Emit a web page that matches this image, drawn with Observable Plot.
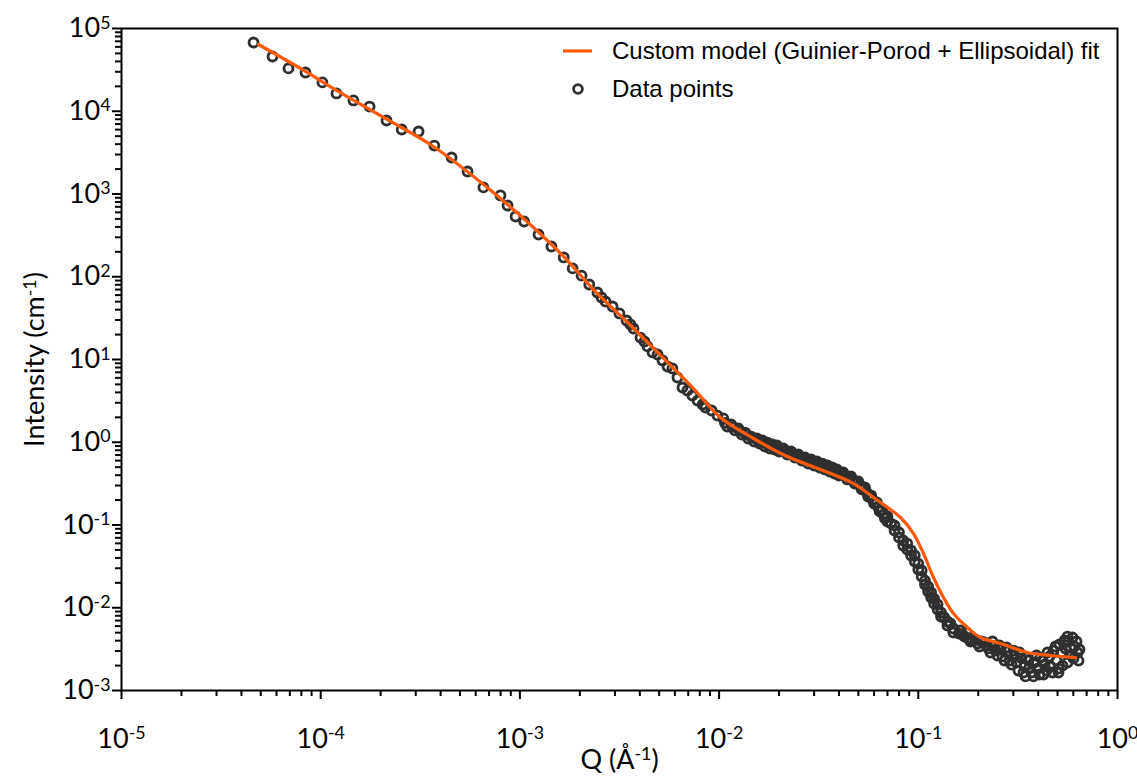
<!DOCTYPE html>
<html>
<head>
<meta charset="utf-8">
<script src="https://cdn.jsdelivr.net/npm/d3@7"></script>
<script src="https://cdn.jsdelivr.net/npm/@observablehq/plot@0.6"></script>
<style>
  html, body { margin: 0; padding: 0; background: #fff; }
  #wrap { position: relative; width: 1137px; height: 779px; overflow: hidden; }
  .leg { position: absolute; font-family: "Liberation Sans", Arial, sans-serif; font-size: 24px; line-height: 24px; color: #000; white-space: nowrap; }
</style>
</head>
<body>
<div id="wrap">
  <div id="chart"></div>
  <svg id="legsym" width="1137" height="779" style="position:absolute;left:0;top:0;pointer-events:none">
    <line x1="563" y1="51" x2="592" y2="51" stroke="#ff5a0a" stroke-width="3.2"></line>
    <circle cx="578" cy="89" r="4.4" fill="none" stroke="#2f2f2f" stroke-width="2.8"></circle>
  </svg>
  <div class="leg" id="leg1" style="left:612px;top:39px"></div>
  <div class="leg" id="leg2" style="left:612px;top:77px"></div>
</div>
<script>
// ---- Data ----
const legendLabels = ["Custom model (Guinier-Porod + Ellipsoidal) fit", "Data points"];

// fitted model curve
const qFit = [4.87e-5, 7.92e-5, 1.16e-4, 2.07e-4, 3.68e-4, 6.57e-4, 1.17e-3, 1.655e-3, 2.34e-3, 3.47e-3,
  5.08e-3, 7.44e-3, 1.016e-2, 1.49e-2, 2.20e-2, 3.23e-2, 4.73e-2, 5.96e-2, 6.46e-2, 8.14e-2,
  9.46e-2, 0.1062, 0.1192, 0.1338, 0.1502, 0.1766, 0.2052, 0.2587, 0.3533, 0.4610, 0.6155];
const iFit = [64100, 32900, 18800, 8410, 3750, 1300, 394, 176, 70.1, 28.0,
  11.2, 4.46, 1.99, 1.11, 0.673, 0.469, 0.317, 0.215, 0.187, 0.1232,
  0.0789, 0.0452, 0.0232, 0.0133, 0.00852, 0.00577, 0.00437, 0.00370, 0.00288, 0.00265, 0.00250];

// measured data points
const qData = [
  // low q
  4.60e-5, 5.73e-5, 6.89e-5, 8.39e-5, 1.02e-4, 1.20e-4, 1.46e-4, 1.76e-4, 2.14e-4, 2.55e-4,
  3.10e-4, 3.72e-4, 4.54e-4, 5.46e-4, 6.56e-4, 7.99e-4, 8.67e-4, 9.51e-4, 1.05e-3, 1.24e-3, 1.44e-3,
  1.66e-3, 1.84e-3, 2.04e-3, 2.23e-3, 2.45e-3, 2.57e-3, 2.69e-3, 2.92e-3, 3.16e-3, 3.43e-3,
  3.59e-3, 3.72e-3, 4.03e-3, 4.22e-3, 4.37e-3, 4.63e-3, 4.91e-3, 5.20e-3, 5.51e-3, 5.83e-3,
  6.18e-3, 6.55e-3, 6.93e-3, 7.34e-3, 7.79e-3, 8.26e-3, 8.55e-3, 9.17e-3, 9.82e-3,
  // mid band
  0.0105, 0.0110, 0.0115, 0.0120, 0.0125, 0.0130, 0.0135, 0.0140, 0.0145, 0.0150,
  0.0155, 0.0160, 0.0165, 0.0170, 0.0175, 0.0180, 0.0185, 0.0190, 0.0195, 0.0200,
  0.021, 0.022, 0.023, 0.024, 0.025, 0.026, 0.027, 0.028, 0.029, 0.030,
  0.031, 0.032, 0.033, 0.034, 0.035, 0.036, 0.037, 0.038, 0.039, 0.040,
  0.042, 0.044, 0.046, 0.048, 0.050, 0.052, 0.054, 0.056, 0.058, 0.060,
  0.062, 0.064, 0.066, 0.068, 0.070, 0.073, 0.076, 0.080, 0.084, 0.088,
  0.092, 0.096, 0.100, 0.104, 0.108, 0.112, 0.116, 0.120, 0.125, 0.130,
  0.135, 0.140, 0.145, 0.150, 0.160,
  0.0107, 0.0117, 0.0127, 0.0137, 0.0147, 0.0157, 0.0167, 0.0177, 0.0187, 0.0197,
  0.0205, 0.0215, 0.0225, 0.0235, 0.0245, 0.0255, 0.0265, 0.0275, 0.0285, 0.0295,
  0.0305, 0.0315, 0.0325, 0.0345, 0.0365, 0.0385, 0.0410, 0.0430, 0.0450, 0.0470,
  0.0490, 0.0510, 0.0530, 0.0550, 0.0570, 0.0590, 0.0610, 0.0630, 0.0650, 0.0670, 0.0690,
  // steep drop, second row
  0.070, 0.076, 0.080, 0.084, 0.088, 0.092, 0.096, 0.100, 0.104, 0.108,
  0.112, 0.116, 0.120, 0.125, 0.130, 0.140, 0.150,
  // tail
  0.1628, 0.1705, 0.1786, 0.1872, 0.1983, 0.2077, 0.2200, 0.2303, 0.2385, 0.2498,
  0.2586, 0.2708, 0.2804, 0.2937, 0.3040, 0.3184, 0.3297, 0.3413, 0.3574, 0.3701,
  0.3831, 0.3966, 0.4107, 0.4301, 0.4452, 0.4610, 0.4772, 0.4940, 0.5114, 0.5296,
  0.5483, 0.5675, 0.5876, 0.6083, 0.6300, 0.6373,
  0.3452, 0.4252, 0.5056, 0.5945,
  0.1667, 0.1746, 0.1828, 0.1937, 0.2029, 0.2149, 0.2251, 0.2358, 0.2441, 0.2556,
  0.2647, 0.2772, 0.2870, 0.3006, 0.3112, 0.3221, 0.3374, 0.3493, 0.3616, 0.3787,
  0.3921, 0.4059, 0.4202, 0.4402, 0.4557, 0.4718, 0.4884, 0.5056, 0.5235, 0.5419,
  0.5610, 0.5808, 0.6013, 0.6225, 0.6444, 0.5610];
const iData = [
  67700, 45900, 32900, 29400, 22300, 16400, 13500, 11400, 7730, 6020,
  5690, 3850, 2760, 1870, 1200, 960, 726, 535, 465, 324, 232,
  171, 126, 103, 80.6, 64.5, 56.1, 50.2, 43.7, 36.0, 29.6,
  26.5, 23.7, 18.4, 16.5, 14.4, 12.2, 11.5, 9.72, 8.23, 7.78,
  6.06, 4.59, 4.22, 3.67, 3.19, 2.86, 2.63, 2.42, 2.10,
  1.94, 1.55, 1.64, 1.39, 1.47, 1.24, 1.31, 1.11, 1.17, 1.02,
  1.11, 0.966, 1.05, 0.888, 0.99, 0.840, 0.939, 0.817, 0.913, 0.773,
  0.840, 0.711, 0.773, 0.654, 0.711, 0.602, 0.654, 0.553, 0.619, 0.524,
  0.585, 0.495, 0.553, 0.469, 0.524, 0.443, 0.495, 0.419, 0.469, 0.396,
  0.431, 0.355, 0.386, 0.317, 0.336, 0.269, 0.284, 0.221, 0.227, 0.182,
  0.187, 0.146, 0.154, 0.120, 0.127, 0.104, 0.0986, 0.0812, 0.0650, 0.0597,
  0.0492, 0.0428, 0.0342, 0.0282, 0.0213, 0.0181, 0.0153, 0.0129, 0.01095, 0.00876,
  0.00762, 0.00682, 0.00645, 0.00561, 0.00488,
  1.71, 1.53, 1.37, 1.24, 1.13, 1.05, 0.99, 0.926, 0.888, 0.840,
  0.817, 0.795, 0.752, 0.721, 0.692, 0.663, 0.636, 0.619, 0.593, 0.577,
  0.561, 0.546, 0.531, 0.502, 0.475, 0.456, 0.419, 0.396, 0.375, 0.350,
  0.326, 0.300, 0.276, 0.250, 0.227, 0.203, 0.182, 0.163, 0.150, 0.134, 0.123,
  0.110, 0.0858, 0.0706, 0.0565, 0.0506, 0.0428, 0.0362, 0.0290, 0.0238, 0.0191,
  0.0157, 0.0133, 0.01125, 0.00953, 0.00784, 0.00610, 0.00502,
  0.00531, 0.00449, 0.00425, 0.00402, 0.00370, 0.00391, 0.00350, 0.00288, 0.00340, 0.00265,
  0.00313, 0.00230, 0.00296, 0.00206, 0.00265, 0.00174, 0.00244, 0.00195, 0.00230, 0.00165,
  0.00218, 0.00184, 0.00250, 0.00206, 0.00288, 0.00195, 0.00304, 0.00230, 0.00360, 0.00200,
  0.00322, 0.00391, 0.00265, 0.00340, 0.00288, 0.00230,
  0.00148, 0.00156, 0.00165, 0.00437,
  0.00475, 0.00502, 0.00391, 0.00413, 0.00340, 0.00380, 0.00322, 0.00391, 0.00304, 0.00350,
  0.00258, 0.00331, 0.00230, 0.00304, 0.00218, 0.00288, 0.00165, 0.00250, 0.00190, 0.00148,
  0.00265, 0.00156, 0.00230, 0.00174, 0.00258, 0.00165, 0.00340, 0.00184, 0.00288, 0.00402,
  0.00218, 0.00331, 0.00244, 0.00391, 0.00313, 0.00449];

// axes
const xMajor = [1e-5, 1e-4, 1e-3, 1e-2, 1e-1, 1];
const xTickText = ["10^-5", "10^-4", "10^-3", "10^-2", "10^-1", "10^0"];
const yMajor = [1e-3, 1e-2, 1e-1, 1, 10, 100, 1000, 1e4, 1e5];
const yTickText = ["10^-3", "10^-2", "10^-1", "10^0", "10^1", "10^2", "10^3", "10^4", "10^5"];
const minorFactors = [2, 3, 4, 5, 6, 7, 8, 9];
const xTitle = "Q (Å^-1)";
const yTitle = "Intensity (cm^-1)";

const xMinor = xMajor.slice(0, -1).flatMap(m => minorFactors.map(f => m * f));
const yMinor = yMajor.slice(0, -1).flatMap(m => minorFactors.map(f => m * f));

const fitRows = qFit.map((q, i) => ({q, I: iFit[i]}));
const dataRows = qData.map((q, i) => ({q, I: iData[i]}));

const orange = "#ff5a0a";
const dark = "#2f2f2f";

const svg = Plot.plot({
  width: 1137,
  height: 779,
  marginLeft: 121,
  marginRight: 20,
  marginTop: 28,
  marginBottom: 89,
  style: {fontFamily: "Lato, sans-serif", color: "black", background: "white", overflow: "visible"},
  x: {type: "log", domain: [1e-5, 1]},
  y: {type: "log", domain: [1e-3, 1e5]},
  marks: [
    Plot.axisX({ticks: xMinor, tickSize: 6, strokeWidth: 2, tickFormat: () => "", label: null}),
    Plot.axisX({ticks: xMajor, tickSize: 9, strokeWidth: 2, tickFormat: () => "", label: null}),
    Plot.axisY({ticks: yMinor, tickSize: 6, strokeWidth: 2, tickFormat: () => "", label: null}),
    Plot.axisY({ticks: yMajor, tickSize: 9, strokeWidth: 2, tickFormat: () => "", label: null}),
    Plot.dot(dataRows, {x: "q", y: "I", r: 4.5, fill: "none", stroke: dark, strokeWidth: 2.8}),
    Plot.line(fitRows, {x: "q", y: "I", stroke: orange, strokeWidth: 3.2, curve: "catmull-rom"}),
    Plot.frame({stroke: "black", strokeWidth: 2}),
    Plot.text(xMajor, {x: d => d, text: (d, i) => xTickText[i], frameAnchor: "bottom", dy: 57, fontSize: 27, fill: "black"}),
    Plot.text(yMajor, {y: d => d, text: (d, i) => yTickText[i], frameAnchor: "left", dx: -11, textAnchor: "end", fontSize: 27, fill: "black"}),
    Plot.text([yTitle], {frameAnchor: "left", dx: -86, rotate: -90, textAnchor: "middle", fontSize: 27, fill: "black"}),
    Plot.text([xTitle], {frameAnchor: "bottom", dy: 78, textAnchor: "middle", fontSize: 27, fill: "black"})
  ]
});

document.getElementById("chart").append(svg);

// turn "base^exp rest" into superscripted text
d3.select(svg).selectAll("text").each(function () {
  const t = this.textContent;
  const m = t.match(/^(.*?)\^(-?\d+)(.*)$/);
  if (!m) return;
  const fs = parseFloat(getComputedStyle(this).fontSize) || 27;
  const sel = d3.select(this);
  sel.text(null);
  sel.append("tspan").text(m[1]);
  sel.append("tspan").attr("font-size", fs * 0.66).attr("dy", -fs * 0.32).text(m[2]);
  if (m[3]) sel.append("tspan").attr("dy", fs * 0.32).text(m[3]);
});

document.getElementById("leg1").textContent = legendLabels[0];
document.getElementById("leg2").textContent = legendLabels[1];
</script>
</body>
</html>
